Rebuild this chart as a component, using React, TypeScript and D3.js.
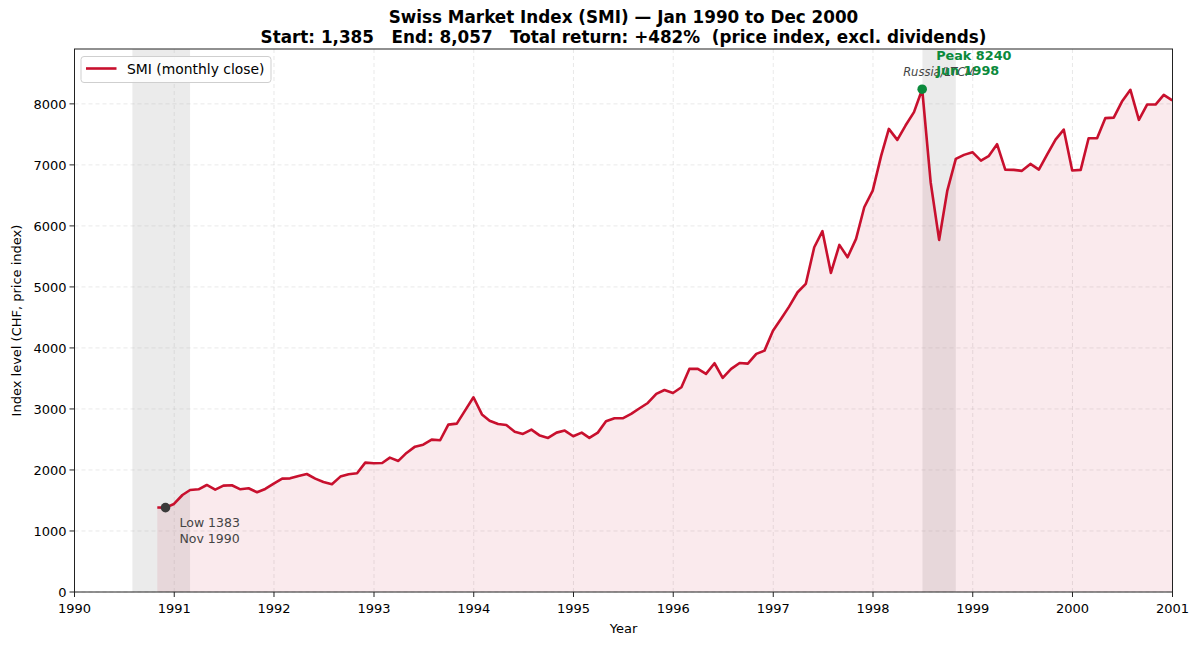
import * as d3 from 'd3';

// SMI monthly closes, Oct 1990 .. Dec 2000 (month-end)
const firstMonth = '1990-10';
const closes = [
  1385, 1383, 1443,
  1590, 1672, 1683, 1754, 1677, 1743, 1749, 1683, 1700, 1634, 1689, 1776,
  1858, 1863, 1902, 1934, 1858, 1803, 1765, 1891, 1929, 1946, 2120, 2109,
  2115, 2202, 2148, 2279, 2382, 2415, 2497, 2487, 2743, 2760, 2973, 3191,
  2910, 2808, 2754, 2738, 2628, 2590, 2661, 2563, 2525, 2612, 2645, 2552,
  2612, 2525, 2612, 2798, 2847, 2847, 2918, 3011, 3098, 3246, 3311, 3262,
  3355, 3656, 3656, 3574, 3749, 3508, 3656, 3754, 3743, 3902, 3956, 4280,
  4486, 4677, 4913, 5049, 5650, 5913, 5230, 5689, 5486, 5787, 6306, 6579,
  7152, 7590, 7410, 7645, 7864, 8240, 6716, 5770, 6579, 7098, 7164, 7208,
  7071, 7143, 7339, 6923, 6918, 6902, 7016, 6923, 7169, 7415, 7579, 6907,
  6918, 7437, 7437, 7766, 7775, 8038, 8230, 7738, 7989, 7989, 8148, 8057,
];

const yearTicks = d3.range(1990, 2002);
const valueTicks = d3.range(0, 9000, 1000);

const shocks = [
  { from: '1990-08-01', to: '1991-02-28', label: '' },
  { from: '1998-07-01', to: '1998-10-31', label: 'Russia/LTCM' },
];

const lowPoint = { month: '1990-11', value: 1383, text: ['Low 1383', 'Nov 1990'] };
const peakPoint = { month: '1998-06', value: 8240, text: ['Peak 8240', 'Jun 1998'] };

const RED = '#c8102e';
const GREEN = '#0b8a3c';
const FONT = '"DejaVu Sans", sans-serif';

const W = 1200;
const H = 645;
const M = { left: 74.5, right: 27.5, top: 49, bottom: 53 };

const monthEnd = (ym: string) => {
  const start = d3.timeParse('%Y-%m')(ym)!;
  return d3.timeDay.offset(d3.timeMonth.offset(start, 1), -1);
};

export default function App() {
  const start = d3.timeParse('%Y-%m')(firstMonth)!;
  const series = closes.map((v, i) => ({
    date: d3.timeDay.offset(d3.timeMonth.offset(start, i + 1), -1),
    value: v,
  }));

  const x = d3
    .scaleTime()
    .domain([new Date(1990, 0, 1), new Date(2001, 0, 1)])
    .range([M.left, W - M.right]);
  const y = d3
    .scaleLinear()
    .domain([0, d3.max(closes)! * 1.08])
    .range([H - M.bottom, M.top]);

  const line = d3
    .line<{ date: Date; value: number }>()
    .x(d => x(d.date))
    .y(d => y(d.value));
  const area = d3
    .area<{ date: Date; value: number }>()
    .x(d => x(d.date))
    .y0(y(0))
    .y1(d => y(d.value));

  const x0 = M.left;
  const x1 = W - M.right;
  const yTop = M.top;
  const yBot = H - M.bottom;
  const cx = (x0 + x1) / 2;

  const lowX = x(monthEnd(lowPoint.month));
  const lowY = y(lowPoint.value);
  const peakX = x(monthEnd(peakPoint.month));
  const peakY = y(peakPoint.value);

  return (
    <svg
      width={W}
      height={H}
      style={{ position: 'absolute', left: 0, top: 0, background: '#fff' }}
      fontFamily={FONT}
    >
      {/* title */}
      <text x={cx} y={22.5} textAnchor="middle" fontSize={16.8} fontWeight="bold">
        Swiss Market Index (SMI) — Jan 1990 to Dec 2000
      </text>
      <text x={cx} y={42.5} textAnchor="middle" fontSize={16.8} fontWeight="bold" style={{ whiteSpace: 'pre' }}>
        {'Start: 1,385   End: 8,057   Total return: +482%  (price index, excl. dividends)'}
      </text>

      {/* shaded events */}
      {shocks.map(s => (
        <rect
          key={s.from}
          x={x(new Date(s.from))}
          y={yTop}
          width={x(new Date(s.to)) - x(new Date(s.from))}
          height={yBot - yTop}
          fill="#999"
          opacity={0.2}
        />
      ))}

      {/* grid */}
      <g stroke="#b0b0b0" strokeOpacity={0.35} strokeDasharray="4,3" strokeWidth={0.8}>
        {yearTicks.map(t => (
          <line key={t} x1={x(new Date(t, 0, 1))} x2={x(new Date(t, 0, 1))} y1={yTop} y2={yBot} />
        ))}
        {valueTicks.map(t => (
          <line key={t} x1={x0} x2={x1} y1={y(t)} y2={y(t)} />
        ))}
      </g>

      <path d={area(series)!} fill={RED} fillOpacity={0.085} />
      <path d={line(series)!} fill="none" stroke={RED} strokeWidth={2.6} strokeLinejoin="round" />

      {/* event labels */}
      {shocks.map(s =>
        s.label ? (
          <text
            key={s.label}
            x={(x(new Date(s.from)) + x(new Date(s.to))) / 2}
            y={75.5}
            textAnchor="middle"
            fontSize={11.5}
            fontStyle="italic"
            fill="#444"
          >
            {s.label}
          </text>
        ) : null
      )}

      {/* low */}
      <circle cx={lowX} cy={lowY} r={4.8} fill="#3a3a3a" />
      <text x={lowX + 14} y={lowY + 19} fontSize={12.5} fill="#444">
        {lowPoint.text[0]}
      </text>
      <text x={lowX + 14} y={lowY + 35} fontSize={12.5} fill="#444">
        {lowPoint.text[1]}
      </text>

      {/* peak */}
      <circle cx={peakX} cy={peakY} r={4.8} fill={GREEN} />
      <text x={peakX + 14} y={peakY - 29} fontSize={12.8} fontWeight="bold" fill={GREEN}>
        {peakPoint.text[0]}
      </text>
      <text x={peakX + 14} y={peakY - 14.5} fontSize={12.8} fontWeight="bold" fill={GREEN}>
        {peakPoint.text[1]}
      </text>

      {/* frame */}
      <rect x={x0} y={yTop} width={x1 - x0} height={yBot - yTop} fill="none" stroke="#222" strokeWidth={1} />

      {/* x axis */}
      {yearTicks.map(t => {
        const px = x(new Date(t, 0, 1));
        return (
          <g key={t}>
            <line x1={px} x2={px} y1={yBot} y2={yBot + 5} stroke="#222" />
            <text x={px} y={yBot + 20.5} textAnchor="middle" fontSize={13}>
              {t}
            </text>
          </g>
        );
      })}
      <text x={cx} y={633} textAnchor="middle" fontSize={13}>
        Year
      </text>

      {/* y axis */}
      {valueTicks.map(t => (
        <g key={t}>
          <line x1={x0 - 5} x2={x0} y1={y(t)} y2={y(t)} stroke="#222" />
          <text x={x0 - 8} y={y(t) + 4.7} textAnchor="end" fontSize={13}>
            {t}
          </text>
        </g>
      ))}
      <text
        transform={`translate(21,${(yTop + yBot) / 2}) rotate(-90)`}
        textAnchor="middle"
        fontSize={13}
      >
        Index level (CHF, price index)
      </text>

      {/* legend */}
      <rect x={81} y={56.5} width={190} height={26} rx={3} fill="#fff" fillOpacity={0.85} stroke="#cfcfcf" />
      <line x1={86} x2={116.5} y1={68.5} y2={68.5} stroke={RED} strokeWidth={2.6} />
      <text x={127} y={73.5} fontSize={13.9}>
        SMI (monthly close)
      </text>
    </svg>
  );
}
